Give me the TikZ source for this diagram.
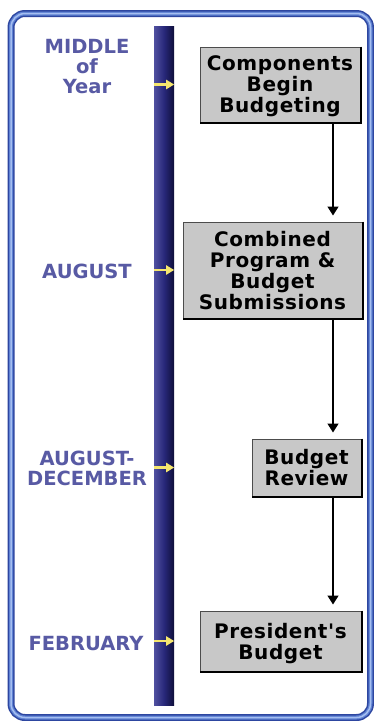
\documentclass[tikz,border=0pt]{standalone}
\usepackage{fontspec}
\setmainfont{DejaVu Sans}
\newfontfamily\boxfont{DejaVu Sans}[LetterSpace=3]
\usetikzlibrary{arrows.meta}
\definecolor{labelblue}{RGB}{88,90,164}
\definecolor{boxgray}{RGB}{200,200,200}
\definecolor{barL}{RGB}{80,80,160}
\definecolor{barM}{RGB}{40,40,122}
\definecolor{barR}{RGB}{14,14,58}
\definecolor{arrowyellow}{RGB}{245,230,110}
\definecolor{frameD}{RGB}{45,70,160}
\definecolor{frameM}{RGB}{95,130,212}
\definecolor{frameL}{RGB}{165,190,240}
\begin{document}
\begin{tikzpicture}[x=1pt,y=-1pt,
  lbl/.style={font=\bfseries\fontsize{19.5}{20}\selectfont, text=labelblue, align=center, inner sep=0pt},
  stepbox/.style={draw=black!70, line width=1pt, fill=boxgray, font=\boxfont\bfseries\fontsize{20}{21}\selectfont, align=center, inner sep=0pt, text depth=0pt},
  bevel/.style={draw=black, line width=2pt},
  flow/.style={draw=black, line width=1.5pt, -{Triangle[width=11pt,length=9pt]}, shorten >=6pt},
  yarrow/.style={draw=arrowyellow, line width=2.5pt, -{Triangle[width=9pt,length=8pt]}},
  timebar/.style={draw=none, inner sep=0pt, minimum width=20pt, minimum height=679pt, left color=barL, right color=barR, middle color=barM}
]
\useasboundingbox (0,0) rectangle (374,721);
\fill[white] (0,0) rectangle (374,721);
% frame
\draw[rounded corners=14pt, line width=7pt, frameD] (11,13.5) rectangle (370.5,717.5);
\draw[rounded corners=14pt, line width=4pt, frameM] (11,13.5) rectangle (370.5,717.5);
\draw[rounded corners=14pt, line width=1.5pt, frameL] (11,13.5) rectangle (370.5,717.5);
% time bar
\node[timebar] (bar) at (164,365.5) {};
% boxes
\node[stepbox, minimum width=160pt, minimum height=75pt] (b1) at (280,84.5) {Components\\Begin\\Budgeting};
\node[stepbox, minimum width=179pt, minimum height=96pt] (b2) at (272.5,270) {Combined\\Program \&\\Budget\\Submissions};
\node[stepbox, minimum width=109pt, minimum height=57pt] (b3) at (306.5,467.5) {Budget\\Review};
\node[stepbox, minimum width=161pt, minimum height=60pt] (b4) at (280.5,641) {President{\char"0027}s\\Budget};
\foreach \b in {b1,b2,b3,b4}
  \draw[bevel] (\b.north east) -- (\b.south east) -- (\b.south west);
% labels
\node[lbl] (l1) at (87,67) {MIDDLE\\of\\Year};
\node[lbl] (l2) at (87,271) {AUGUST};
\node[lbl] (l3) at (87,468) {AUGUST-\\DECEMBER};
\node[lbl] (l4) at (86,644) {FEBRUARY};
% yellow arrows
\foreach \b in {b1,b2,b3,b4}
  \draw[yarrow] (bar.west |- \b) -- (bar.east |- \b);
% flow connectors
\coordinate (lx) at (333,0);
\draw[flow] (b1.south -| lx) -- (b2.north -| lx);
\draw[flow] (b2.south -| lx) -- (b3.north -| lx);
\draw[flow] (b3.south -| lx) -- (b4.north -| lx);
\end{tikzpicture}
\end{document}
